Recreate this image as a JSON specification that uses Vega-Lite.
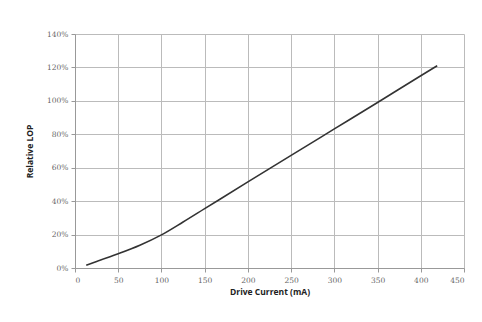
{
  "$schema": "https://vega.github.io/schema/vega-lite/v6.json",
  "autosize": "none",
  "width": 389,
  "height": 234,
  "padding": {"left": 75, "top": 34, "right": 18, "bottom": 54},
  "background": "white",
  "config": {"view": {"stroke": null}},
  "data": {"values": [
    {"current": 13, "lop": 1.6},
    {"current": 25, "lop": 3.9},
    {"current": 50, "lop": 8.5},
    {"current": 75, "lop": 13.6},
    {"current": 100, "lop": 19.8},
    {"current": 125, "lop": 27.5},
    {"current": 150, "lop": 35.5},
    {"current": 200, "lop": 51.5},
    {"current": 250, "lop": 67.4},
    {"current": 300, "lop": 83.2},
    {"current": 350, "lop": 99},
    {"current": 400, "lop": 115},
    {"current": 419, "lop": 121}
  ]},
  "mark": {"type": "line", "color": "#333333", "strokeWidth": 1.6, "interpolate": "monotone"},
  "encoding": {
    "x": {"field": "current", "type": "quantitative",
      "scale": {"domain": [0, 450], "nice": false},
      "axis": {"values": [0,50,100,150,200,250,300,350,400,450], "title": "Drive Current (mA)",
        "titleFont": "Open Sans", "titleFontSize": 8.5, "titleFontWeight": "bold", "titleColor": "#222",
        "titlePadding": 4, "labelFont": "DejaVu Serif", "labelFontSize": 7.5, "labelColor": "#666",
        "domainColor": "#999", "tickColor": "#999", "tickSize": 4, "gridColor": "#bbbbbb", "labelPadding": 4}},
    "y": {"field": "lop", "type": "quantitative",
      "scale": {"domain": [0, 140], "nice": false},
      "axis": {"values": [0,20,40,60,80,100,120,140], "labelExpr": "datum.value + '%'", "title": "Relative LOP",
        "titleFont": "Open Sans", "titleFontSize": 8.5, "titleFontWeight": "bold", "titleColor": "#222",
        "titlePadding": 12, "labelFont": "DejaVu Serif", "labelFontSize": 7.5, "labelColor": "#666",
        "domainColor": "#999", "tickColor": "#999", "tickSize": 4, "gridColor": "#bbbbbb", "labelPadding": 3}}
  }
}
